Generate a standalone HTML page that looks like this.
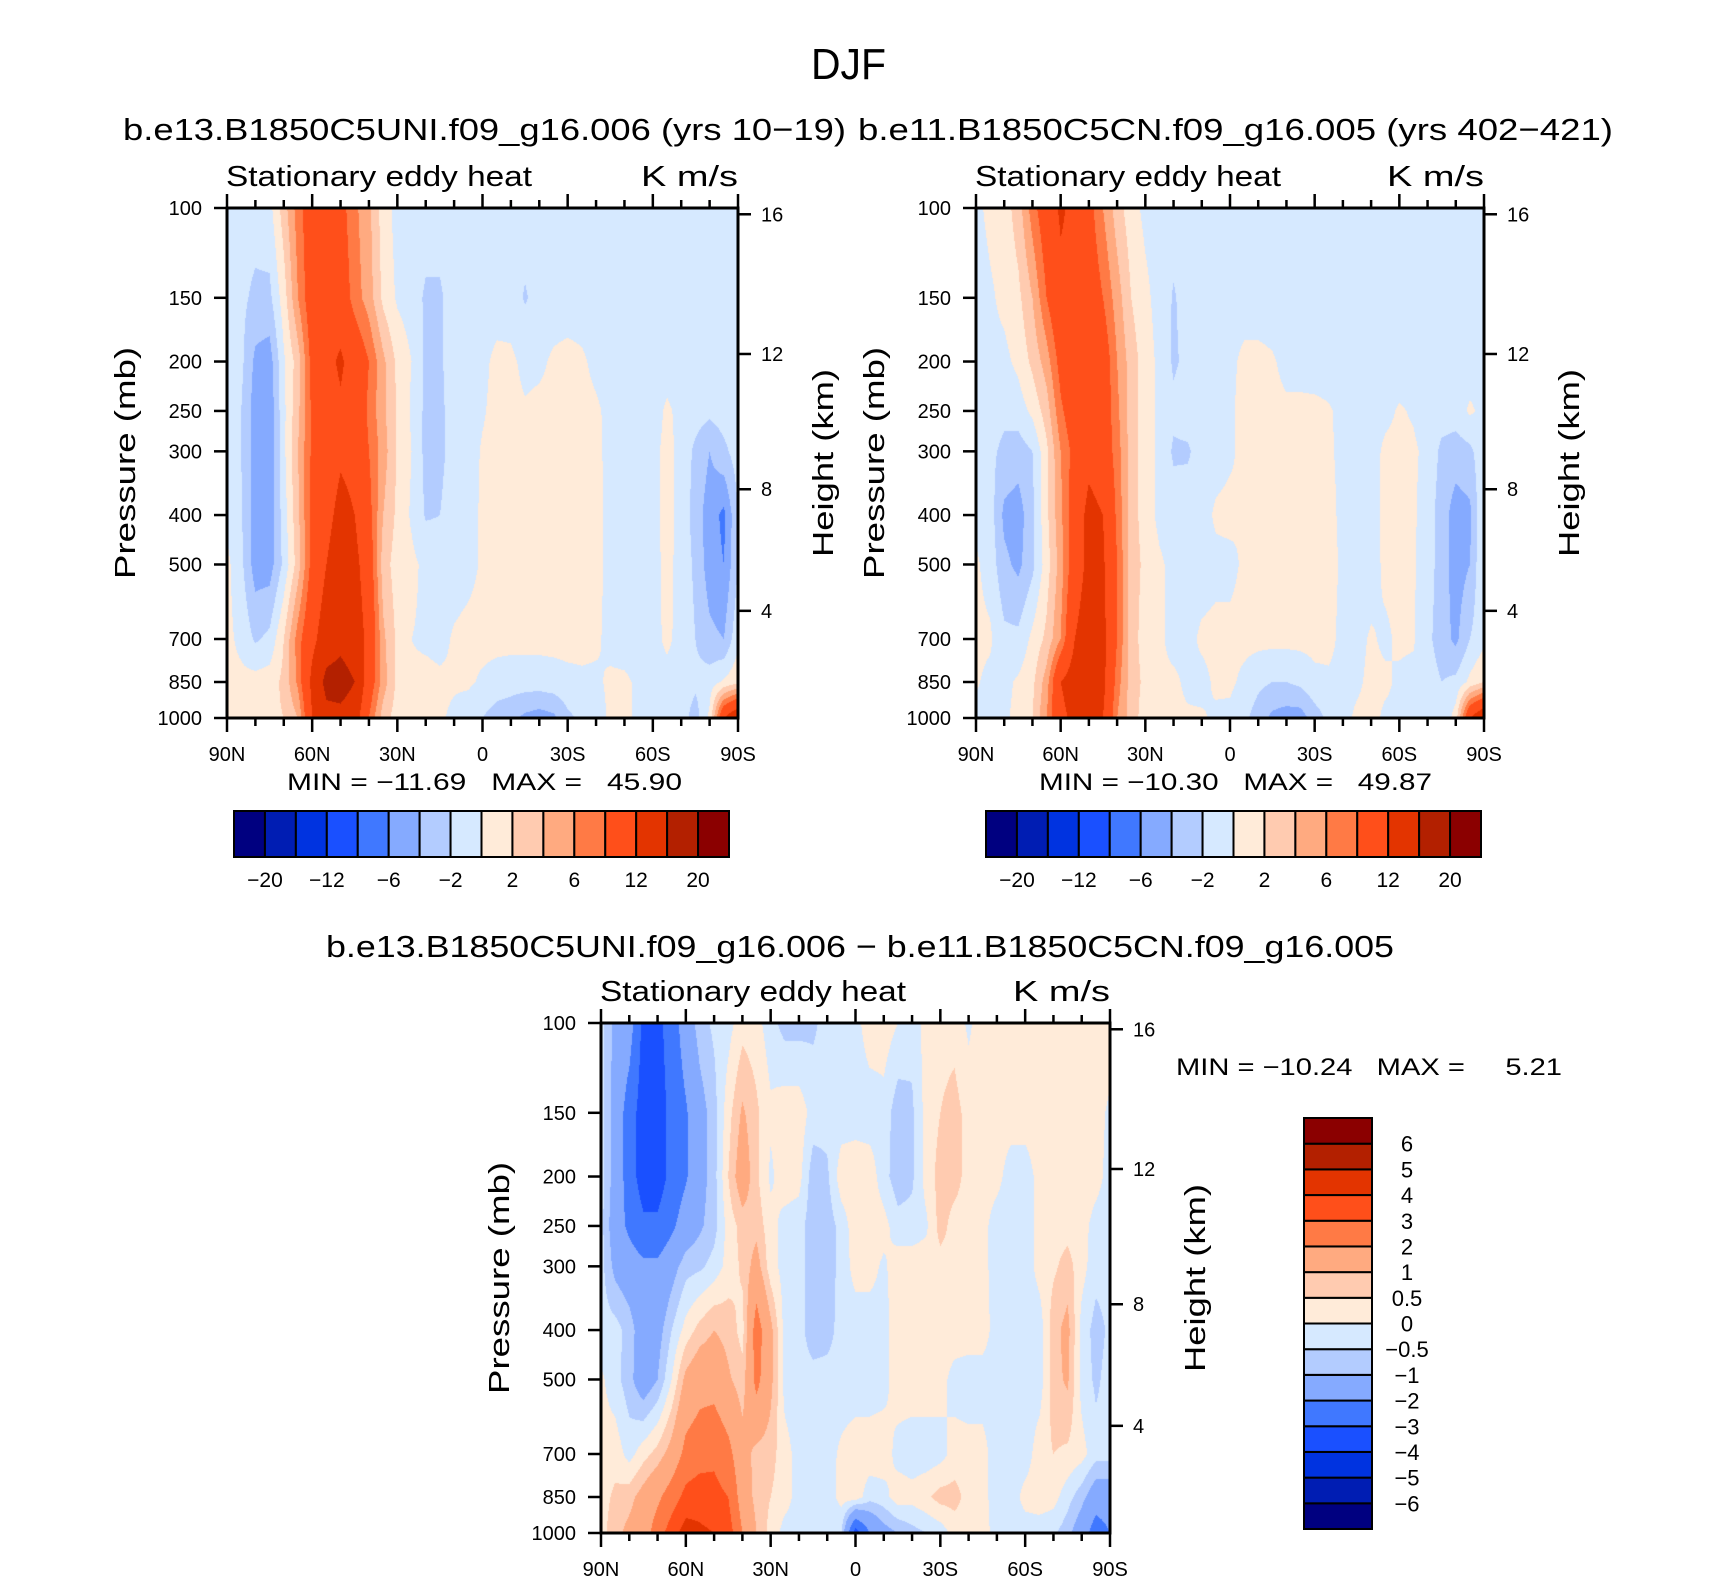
<!DOCTYPE html>
<html>
<head>
<meta charset="utf-8">
<style>
html,body{margin:0;padding:0;background:#fff;}
#wrap{position:relative;width:1710px;height:1581px;overflow:hidden;background:#fff;}
canvas{position:absolute;}
svg{position:absolute;left:0;top:0;}
text{font-family:"Liberation Sans",sans-serif;fill:#000;}
</style>
</head>
<body>
<div id="wrap">
<canvas id="c1" width="511" height="510" style="left:227px;top:208px"></canvas>
<canvas id="c2" width="508" height="510" style="left:976px;top:208px"></canvas>
<canvas id="c3" width="509" height="510" style="left:601px;top:1023px"></canvas>
<svg id="ov" width="1710" height="1581" viewBox="0 0 1710 1581">
<text x="811" y="79" font-size="44" textLength="75" lengthAdjust="spacingAndGlyphs">DJF</text>
<text x="123" y="140" font-size="31" textLength="723" lengthAdjust="spacingAndGlyphs">b.e13.B1850C5UNI.f09_g16.006 (yrs 10−19)</text>
<text x="858" y="140" font-size="31" textLength="755" lengthAdjust="spacingAndGlyphs">b.e11.B1850C5CN.f09_g16.005 (yrs 402−421)</text>
<text x="326" y="957" font-size="31" textLength="1068" lengthAdjust="spacingAndGlyphs">b.e13.B1850C5UNI.f09_g16.006 − b.e11.B1850C5CN.f09_g16.005</text>
<text x="287" y="790" font-size="24" textLength="395" lengthAdjust="spacingAndGlyphs" xml:space="preserve">MIN = −11.69   MAX =   45.90</text>
<text x="1039" y="790" font-size="24" textLength="393" lengthAdjust="spacingAndGlyphs" xml:space="preserve">MIN = −10.30   MAX =   49.87</text>
<text x="1176" y="1075" font-size="24" textLength="386" lengthAdjust="spacingAndGlyphs" xml:space="preserve">MIN = −10.24   MAX =     5.21</text>
</svg>
</div>
<script>
// ---------- data ----------
const lats = [90,85,80,75,70,65,60,55,50,45,40,35,30,25,20,15,10,5,0,-5,-10,-15,-20,-25,-30,-35,-40,-45,-50,-55,-60,-65,-70,-75,-80,-85,-90];
const pressures = [100,150,200,250,300,400,500,700,850,1000];
const pressureTicks = [100,150,200,250,300,400,500,700,850,1000];
const heightTicks = [16,12,8,4];
const latTickLabels = ['90N','60N','30N','0','30S','60S','90S'];
const latTickValues = [90,60,30,0,-30,-60,-90];

// Panel 1 (b.e13) rows by pressure level
const p1_100 = [-1,-1,-1,-0.7,3,7,10,11,9,6.5,4.5,1,-0.7,-1,-1,-1,-1,-1,-1,-1,-1,-1,-1,-1,-1,-1,-1,-1,-1,-1,-1,-1,-1,-1,-1,-1,-1];
const p1_150 = [-1,-1.5,-2.5,-2.5,1,6,10,11,10,7,5,1.5,-0.3,-1,-2.3,-2.3,-1,-1,-1,-1,-1,-2.2,-1.2,-1,-1,-1,-1,-1,-1,-1,-1,-1,-1,-1,-1,-1,-1];
const p1_200 = [-1,-1.5,-4.5,-5,-0.3,3,9,11,12.5,10.5,8,4.5,1.5,0,-2.5,-2.3,-1,-1,-0.5,0.5,0.4,-0.5,-0.4,0.3,0.6,0.3,-0.5,-1,-1,-1,-1,-0.8,-1,-1,-1,-1,-1];
const p1_250 = [-1,-2,-5,-5.5,-0.5,3.5,8.5,10.5,11.5,10.5,7.5,4.5,1.8,-0.3,-2.5,-2.5,-1,-1,-0.2,0.6,0.6,0.2,0.5,0.6,0.6,0.6,0.3,-0.5,-1,-1,-0.8,0.3,-0.5,-1,-1.5,-1,-1];
const p1_300 = [-1,-2,-5,-5.5,-0.5,4,8.5,10,11.5,11,8,5,1.8,0,-2.6,-2.6,-1,-0.8,0.2,0.6,0.6,0.6,0.6,0.6,0.6,0.6,0.4,-0.5,-1,-1,-0.5,0.5,-0.5,-2.5,-4,-2.5,-1];
const p1_400 = [-0.5,-1.8,-5,-5.5,-1,3.5,9,11,13,12,9,4,1.5,-0.3,-2.2,-2,-0.8,-0.7,0.3,0.6,0.6,0.6,0.6,0.6,0.6,0.6,0.5,-0.5,-1,-0.8,-0.5,0.5,-0.5,-3,-5,-6.5,-2];
const p1_500 = [0.5,-1.5,-5,-5,-1.5,3,9,12,14,13,10,3,1,0.5,-0.5,-1,-0.8,-0.5,0.2,0.6,0.6,0.6,0.6,0.6,0.6,0.6,0.5,-0.5,-1,-1,-0.5,0.4,-0.5,-2.5,-5,-6,-2];
const p1_700 = [0.5,-0.5,-2.3,-1.5,2,7,11,14,15,14,11,4.5,1.5,0,-0.3,-0.5,0.2,0.5,0.6,0.6,0.6,0.6,0.6,0.6,0.6,0.5,0.3,-0.5,-0.8,-0.8,-0.5,0.3,-0.5,-2,-3.5,-4,-0.5];
const p1_850 = [0.5,0.5,0.8,1,2.5,6.5,13,17,17.5,16,10,5,1.5,0.3,0.5,0.3,0.2,0.3,-0.3,-0.8,-1,-1,-1,-0.8,-0.5,-0.3,-0.3,0.3,0.3,-0.3,-0.5,-0.5,-0.8,-1.5,-1,0.3,1.5];
const p1_1000 = [0.8,1,1.5,1.5,2,4,12,15,15,14,8,3,1,0.3,0.3,0.2,-0.3,-1,-2,-3,-3.5,-4.5,-5,-4.5,-2.5,-1.5,-0.8,0.3,0.3,-0.3,-0.3,-0.3,-1,-3,0.5,12,16];

// Panel 2 (b.e11)
const p2_100 = [-0.5,0.5,1,3,7,10,12.5,11,9,6,3,0.8,-0.5,-1,-1,-1,-1,-1,-1,-1,-1,-1,-1,-1,-1,-1,-1,-1,-1,-1,-1,-1,-1,-1,-1,-1,-1];
const p2_150 = [-1,-0.3,0.5,1.5,4,8,11,11,10,8,5,2,0.5,-0.8,-2.2,-1.2,-1,-1,-1,-1,-1,-1,-1,-1,-1,-1,-1,-1,-1,-1,-1,-1,-1,-1,-1,-1,-1];
const p2_200 = [-1,-0.5,-0.5,0.5,2.5,5,9,12,12,10,6,3,1,-0.5,-2.3,-1.5,-1,-1,-0.5,0.5,0.5,0.2,-0.5,-0.8,-1,-1,-1,-1,-1,-1,-1,-1,-1,-1,-1,-1,-1];
const p2_250 = [-1,-1,-1.5,-1,0.5,3,7.5,10,11,10,6.5,3,1,-0.5,-1.5,-1,-1,-0.8,-0.3,0.6,0.6,0.5,0.3,0.5,0.5,0.2,-0.5,-1,-1,-0.5,0.2,-0.2,-1,-1,-1,0.3,-0.5];
const p2_300 = [-1,-1.5,-2.5,-3,-2,1.5,6,9,11,10,7,3,1,-0.5,-2.3,-2.3,-1,-0.8,-0.3,0.5,0.6,0.6,0.6,0.6,0.6,0.3,-0.5,-1,-0.8,0.4,0.5,0.3,-0.5,-2.5,-3,-2.5,-0.5];
const p2_400 = [-0.5,-1,-4.5,-5,-2.5,1.5,5.5,10,13,12,7.5,3,1,-0.5,-1,-0.8,-0.8,0.3,0.5,0,0.6,0.6,0.6,0.6,0.6,0.6,-0.5,-1,-0.8,0.5,0.5,0.3,-1,-3,-5,-4.5,0.3];
const p2_500 = [0.3,-0.8,-3.5,-4.5,-2.5,1,5,10,13,12.5,8,3,1.5,0.3,-0.5,-0.8,-0.8,-0.5,-0.5,0.3,0.6,0.6,0.6,0.6,0.6,0.6,-0.3,-1,-0.8,0.4,0.5,0.2,-1,-3,-5,-4,0.3];
const p2_700 = [0.5,0.3,-1.5,-1.5,0.5,2.5,6,12,14,13,8,3,1,0.3,-0.5,-0.5,0.3,0.5,0.5,0.6,0.6,0.6,0.6,0.6,0.6,0.5,-0.5,-0.5,0.2,-0.3,0.3,0.2,-1.5,-3,-4.5,-2,-0.5];
const p2_850 = [0.2,-0.5,-0.5,0.3,1.5,5,12,14,13.5,13,7,3,1.5,0.2,0.3,-0.3,-0.5,0.3,0.4,-0.5,-1.5,-2,-2,-1.5,-0.5,-0.3,-0.5,-0.3,0.4,0.3,-0.3,-0.5,-1,-2,-1.5,0.5,2];
const p2_1000 = [-0.5,-0.5,-0.3,0.5,2,6,11,13,13,12,6,3,1,0.3,0.3,0.2,0.2,-0.3,-0.5,-1.5,-3,-4.5,-5,-5,-3,-1.5,-0.5,0.3,0.5,-0.3,-0.3,-0.3,-1,-2,1,12,16];

// Panel 3 (difference)
const p3_100 = [-0.3,-1.2,-1.5,-3.3,-3.3,-2.5,-1.5,-0.7,-0.4,-0.2,0.3,0.2,-0.3,-0.7,-0.7,-0.6,-0.3,-0.3,-0.2,0.3,0.3,0,-0.3,0.2,0.3,0.3,-0.1,0.3,0.3,0.3,0.3,0.3,0.3,0.3,0.3,0.3,0.3];
const p3_150 = [-0.3,-1.3,-2.5,-3.5,-3.5,-2.7,-2.1,-1.3,-0.7,0.3,1.1,0.6,0.1,0.3,0.3,-0.2,-0.3,-0.3,-0.3,-0.3,-0.2,-0.8,-0.6,0.2,0.5,0.7,0.3,0.3,0.3,0.3,0.3,0.3,0.3,0.3,0.3,0.2,-0.1];
const p3_200 = [-0.3,-1.3,-2.5,-3.5,-3.5,-2.7,-2.1,-1.3,-0.7,0.5,1.5,0.6,-0.1,0.3,0.2,-0.8,-0.6,0.3,0.4,0.3,-0.3,-0.8,-0.6,0.2,0.7,0.7,0.3,0.3,0.2,-0.3,-0.3,0.2,0.3,0.3,0.3,0.2,-0.2];
const p3_250 = [-0.3,-1.5,-2.2,-2.8,-2.8,-2.2,-1.5,-1.1,-0.7,0.2,0.7,0.8,0.2,-0.2,-0.3,-0.8,-0.8,-0.3,0.3,0.3,0.2,-0.3,-0.3,-0.1,0.7,0.3,0.3,0.2,-0.3,-0.3,-0.3,0.2,0.3,0.3,0.2,-0.2,-0.3];
const p3_300 = [-0.3,-1.2,-1.5,-1.8,-1.8,-1.3,-0.7,-0.6,-0.3,0.2,0.6,1.3,0.2,-0.2,-0.3,-0.8,-0.8,-0.3,0.2,0.2,-0.1,0.3,0.3,0.3,0.3,0.3,0.3,0.2,-0.3,-0.4,-0.3,0.2,0.4,0.7,0.2,-0.3,-0.3];
const p3_400 = [-0.3,-0.3,-0.7,-1.5,-1.3,-0.5,0.2,0.7,1,0.8,0.3,2.5,1.2,-0.2,-0.3,-0.8,-0.7,-0.3,-0.3,-0.3,-0.2,0.3,0.3,0.3,0.3,0.3,0.3,0.3,-0.3,-0.3,-0.3,-0.3,0.8,1.2,-0.2,-0.7,-0.4];
const p3_500 = [0.1,-0.3,-0.8,-1.5,-1,0,1.2,1.6,1.6,1.1,0.7,2.3,1.2,-0.2,-0.3,-0.3,-0.3,-0.3,-0.3,-0.3,-0.2,0.3,0.3,0.3,0.2,-0.2,-0.3,-0.3,-0.3,-0.3,-0.3,-0.3,0.8,1.1,-0.2,-0.6,-0.3];
const p3_700 = [0.2,0.3,-0.2,0.3,0.7,1.3,2.3,2.6,2.8,2.3,1.3,0.8,0.7,0.2,-0.2,-0.2,-0.2,0.1,0.3,0.3,0.3,-0.2,-0.3,-0.3,-0.2,0.2,0.2,0.2,-0.3,-0.3,-0.3,0.3,0.5,0.4,0.2,-0.3,-0.3];
const p3_850 = [0.3,0.6,0.8,1.3,1.8,2.5,3.3,3.5,3.3,3,1.5,0.8,0.5,0.2,-0.2,-0.3,-0.3,0.2,0.3,-0.3,-0.2,0.3,0.2,0.4,0.7,0.7,0.3,0.2,-0.3,-0.3,0.2,0.3,0.2,-0.3,-0.8,-1.5,-1.5];
const p3_1000 = [0.3,0.8,1.2,1.5,2.5,3.5,4.5,4.2,4,3.5,2,1,0.3,-0.2,-0.2,-0.3,-0.3,-0.5,-3.5,-2,-1.3,-1,-0.7,-0.5,-0.3,0.2,0.2,0.2,-0.2,-0.3,-0.3,-0.3,-0.4,-0.8,-1.5,-2.5,-2];

const panel1Rows = [p1_100,p1_150,p1_200,p1_250,p1_300,p1_400,p1_500,p1_700,p1_850,p1_1000];
const panel2Rows = [p2_100,p2_150,p2_200,p2_250,p2_300,p2_400,p2_500,p2_700,p2_850,p2_1000];
const panel3Rows = [p3_100,p3_150,p3_200,p3_250,p3_300,p3_400,p3_500,p3_700,p3_850,p3_1000];

const topLevels = [-20,-16,-12,-8,-6,-4,-2,0,2,4,6,8,12,16,20];
const topLabels = ['−20','−12','−6','−2','2','6','12','20'];
const diffLevels = [-6,-5,-4,-3,-2,-1,-0.5,0,0.5,1,2,3,4,5,6];
const diffLabels = ['−6','−5','−4','−3','−2','−1','−0.5','0','0.5','1','2','3','4','5','6'];
const palette = ['#000080','#001db3','#0033e0','#1a50ff','#4078ff','#85aaff','#b3ccff','#d6e9ff','#ffebd9','#ffcbb0','#ffaa80','#ff7a45','#ff4f1a','#e33400','#b32000','#8b0000'];

// ---------- rendering ----------
const NS = 'http://www.w3.org/2000/svg';
const svg = document.getElementById('ov');
function mk(tag, attrs, parent){
  const e = document.createElementNS(NS, tag);
  for (const k in attrs) e.setAttribute(k, attrs[k]);
  (parent || svg).appendChild(e);
  return e;
}
function hexRgb(h){ return [parseInt(h.substr(1,2),16),parseInt(h.substr(3,2),16),parseInt(h.substr(5,2),16)]; }
const palRgb = palette.map(hexRgb);
function levelIndex(v, levels){ let i=0; while(i<levels.length && v>=levels[i]) i++; return i; }

function pressureY(p, y0, h){ return y0 + Math.log10(p/100)*h; }
function latX(lat, x0, w){ return x0 + (90-lat)/180*w; }
function stdPressure(km){
  const z = km*1000;
  if (z <= 11000) return 1013.25*Math.pow(1-2.25577e-5*z, 5.25588);
  return 226.32*Math.exp(-1.5769e-4*(z-11000));
}

function drawField(canvasId, rows, levels){
  const cv = document.getElementById(canvasId);
  const W = cv.width, H = cv.height;
  const ctx = cv.getContext('2d');
  const img = ctx.createImageData(W, H);
  const lp = pressures.map(p => Math.log10(p));
  const nL = lats.length;
  for (let y=0; y<H; y++){
    const L = 2 + (y+0.5)/H;
    let j = 0;
    while (j < lp.length-2 && L > lp[j+1]) j++;
    let t = (L - lp[j])/(lp[j+1]-lp[j]);
    t = Math.max(0, Math.min(1, t));
    const r0 = rows[j], r1 = rows[j+1];
    for (let x=0; x<W; x++){
      const latv = 90 - (x+0.5)/W*180;
      let fi = (lats[0]-latv)/(lats[0]-lats[nL-1])*(nL-1);
      let i = Math.min(nL-2, Math.max(0, Math.floor(fi)));
      const u = fi - i;
      const a = r0[i]*(1-u) + r0[i+1]*u;
      const b = r1[i]*(1-u) + r1[i+1]*u;
      const v = a*(1-t) + b*t;
      const c = palRgb[levelIndex(v, levels)];
      const k = (y*W + x)*4;
      img.data[k]=c[0]; img.data[k+1]=c[1]; img.data[k+2]=c[2]; img.data[k+3]=255;
    }
  }
  ctx.putImageData(img, 0, 0);
}

function drawAxes(x0, y0, w, h, tag){
  const g = mk('g', {});
  
  
  pressureTicks.forEach(p => {
    const y = pressureY(p, y0, h);
    const tk = mk('line', {x1:x0-13, y1:y, x2:x0, y2:y, stroke:'#000', 'stroke-width':2.5}, g);
    
    
    const tx = mk('text', {x:x0-25, y:y+7, 'font-size':20, 'text-anchor':'end'}, g);
    tx.textContent = String(p);
    
    
  });
  heightTicks.forEach(km => {
    const y = pressureY(stdPressure(km), y0, h);
    const tk = mk('line', {x1:x0+w, y1:y, x2:x0+w+13, y2:y, stroke:'#000', 'stroke-width':2.5}, g);
    
    
    const tx = mk('text', {x:x0+w+23, y:y+7, 'font-size':20}, g);
    tx.textContent = String(km);
    
    
  });
  for (let lat=90; lat>=-90; lat-=10){
    const x = latX(lat, x0, w);
    const major = (lat % 30 === 0);
    const len = major ? 14 : 8;
    const tb = mk('line', {x1:x, y1:y0+h, x2:x, y2:y0+h+len, stroke:'#000', 'stroke-width':2.5}, g);
    
    
    const tt = mk('line', {x1:x, y1:y0, x2:x, y2:y0-len, stroke:'#000', 'stroke-width':2.5}, g);
    
    
  }
  latTickValues.forEach((lat, i) => {
    const tx = mk('text', {x:latX(lat, x0, w), y:y0+h+43, 'font-size':20, 'text-anchor':'middle'}, g);
    tx.textContent = latTickLabels[i];
    
    
  });
  const fr = mk('rect', {x:x0, y:y0, width:w, height:h, fill:'none', stroke:'#000', 'stroke-width':3}, g);
  
  
  const st = mk('text', {x:x0-1, y:y0-22, 'font-size':29, textLength:306, lengthAdjust:'spacingAndGlyphs'}, g);
  st.textContent = 'Stationary eddy heat';
  
  
  const un = mk('text', {x:x0+w, y:y0-22, 'font-size':29, 'text-anchor':'end', textLength:97, lengthAdjust:'spacingAndGlyphs'}, g);
  un.textContent = 'K m/s';
  
  
  const cy = y0 + h/2;
  const pl = mk('text', {x:0, y:0, 'font-size':29, 'text-anchor':'middle', textLength:232, lengthAdjust:'spacingAndGlyphs', transform:'translate('+(x0-92)+','+cy+') rotate(-90)'}, g);
  pl.textContent = 'Pressure (mb)';
  
  
  const hl = mk('text', {x:0, y:0, 'font-size':29, 'text-anchor':'middle', textLength:188, lengthAdjust:'spacingAndGlyphs', transform:'translate('+(x0+w+95)+','+cy+') rotate(-90)'}, g);
  hl.textContent = 'Height (km)';
  
  
}

function hColorbar(x0, y0, w, h, tag){
  const g = mk('g', {});
  
  
  const bw = w/palette.length;
  palette.forEach((c, i) => {
    const r = mk('rect', {x:x0+i*bw, y:y0, width:bw, height:h, fill:c, stroke:'#000', 'stroke-width':2}, g);
    
    
  });
  topLabels.forEach((lab, i) => {
    const tx = mk('text', {x:x0+(2*i+1)*bw, y:y0+h+30, 'font-size':21, 'text-anchor':'middle'}, g);
    tx.textContent = lab;
    
    
  });
}

function vColorbar(x0, y0, w, h, tag){
  const g = mk('g', {});
  
  
  const bh = h/palette.length;
  palette.forEach((c, i) => {
    const r = mk('rect', {x:x0, y:y0+h-(i+1)*bh, width:w, height:bh, fill:c, stroke:'#000', 'stroke-width':2}, g);
    
    
  });
  diffLabels.forEach((lab, i) => {
    const tx = mk('text', {x:x0+w+35, y:y0+h-(i+1)*bh+8, 'font-size':22, 'text-anchor':'middle'}, g);
    tx.textContent = lab;
    
    
  });
}

drawField('c1', panel1Rows, topLevels);
drawField('c2', panel2Rows, topLevels);
drawField('c3', panel3Rows, diffLevels);
drawAxes(227, 208, 511, 510, 'panel-1');
drawAxes(976, 208, 508, 510, 'panel-2');
drawAxes(601, 1023, 509, 510, 'diff-panel');
hColorbar(234, 811, 495, 46, 'panel-1-colorbar');
hColorbar(986, 811, 495, 46, 'panel-2-colorbar');
vColorbar(1304, 1118, 68, 411, 'diff-colorbar');
</script>
</body>
</html>
